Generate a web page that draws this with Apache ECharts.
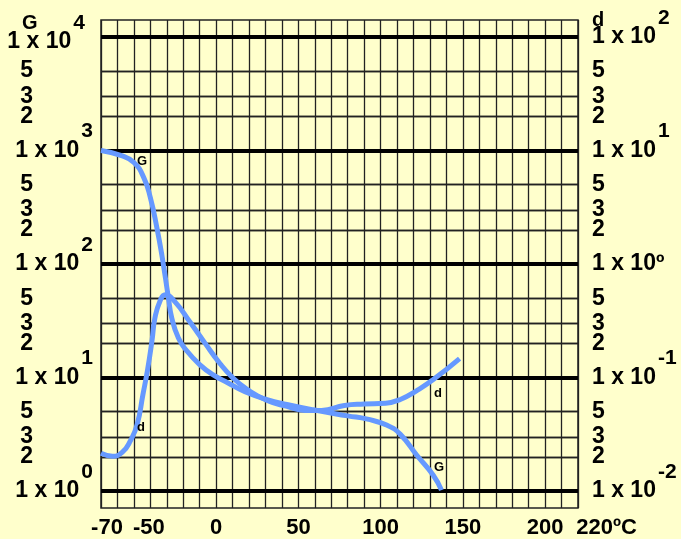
<!DOCTYPE html>
<html>
<head>
    <meta charset="utf-8" />
    <title></title>
    <script src="https://cdn.jsdelivr.net/npm/echarts@6/dist/echarts.min.js"></script>
    <style>
        html, body { margin: 0; padding: 0; background: #ffffcc; }
        #chartView { width: 681px; height: 539px; }
    </style>
</head>
<body>
    <div id="chartView"></div>

    <script>
        // G curve (left scale) - temperature in deg C
        var tempG = [-70, -58, -50, -44, -40, -36, -33, -29, -27, -23, -18, -10, -2, 7, 17.5, 31, 43, 59, 80, 92, 104, 112, 122, 132, 137];
        var valG = [1000, 904, 783, 577, 384, 208, 120, 50.4, 33.6, 22.4, 17.3, 13.0, 10.6, 9.0, 7.5, 6.4, 5.8, 5.2, 4.6, 4.3, 3.8, 3.16, 2.07, 1.38, 1.02];

        // d curve (right scale)
        var tempD = [-70, -63, -57, -52, -48, -44.5, -41.7, -39, -37.2, -34.1, -31, -25, -16, -7, 2.3, 10, 19, 31, 43, 54, 64, 78, 90, 103, 112, 122, 132, 148];
        var valD = [0.0215, 0.0203, 0.022, 0.028, 0.0387, 0.071, 0.117, 0.211, 0.336, 0.473, 0.535, 0.464, 0.310, 0.203, 0.133, 0.100, 0.0785, 0.0628, 0.0557, 0.0514, 0.0514, 0.0568, 0.0585, 0.0595, 0.0641, 0.0769, 0.096, 0.147];

        // axis labels
        var xLabels = [-70, -50, 0, 50, 100, 150, 200, 220];
        var leftExp = [0, 1, 2, 3, 4];
        var rightExp = [-2, -1, 0, 1, 2];
        var minorMult = [2, 3, 5];

        var FONT = "Arial, 'Liberation Sans', sans-serif";
        function txtStyle(size, pad) {
            return { fontSize: size, fontWeight: 'bold', fontFamily: FONT, color: '#000', padding: pad || 0 };
        }
        var richText = {
            m: txtStyle(23),
            s: txtStyle(21, [0, 0, 38, 2]),
            mt: txtStyle(23, [10, 0, 0, 0]),
            st: txtStyle(21, [0, 0, 28, 2])
        };

        function zip(xs, ys) {
            return xs.map(function (x, i) { return [x, ys[i]]; });
        }

        // grid lines + labels for one log scale
        function buildLines(exps, isRight) {
            var out = [];
            exps.forEach(function (e, k) {
                var base = Math.pow(10, e);
                var top = !isRight && k === exps.length - 1;
                var txt;
                if (isRight && e === 0) txt = '{m|1 x 10\u00ba}';
                else if (top) txt = '{mt|1 x 10}{st|' + e + '}';
                else txt = '{m|1 x 10}{s|' + e + '}';
                out.push({
                    yAxis: base,
                    lineStyle: { color: '#000', width: 4, type: 'solid' },
                    label: { formatter: txt, distance: isRight ? 14 : (top ? 16 : 8) }
                });
                if (k < exps.length - 1) {
                    minorMult.forEach(function (m) {
                        out.push({
                            yAxis: m * base,
                            lineStyle: { color: '#222', width: 1.3, type: 'solid' },
                            label: { formatter: '{m|' + m + '}', distance: isRight ? 14 : 68 }
                        });
                    });
                }
            });
            return out;
        }

        var myChart = echarts.init(document.getElementById('chartView'));

        var option = {
            backgroundColor: '#ffffcc',
            animation: false,
            grid: {
                left: 101, right: 103, top: 20, bottom: 28,
                show: true, borderColor: '#222', borderWidth: 1.5
            },
            xAxis: {
                type: 'value',
                min: -70,
                max: 220,
                interval: 10,
                axisLine: { show: false },
                axisTick: { show: false },
                splitLine: { show: true, lineStyle: { color: '#222', width: 1.3 } },
                axisLabel: {
                    interval: 0,
                    margin: 9,
                    rich: {
                        m: txtStyle(22),
                        a: txtStyle(22, [0, 0, 0, 12]),
                        b: txtStyle(22, [0, 0, 0, 30]),
                        c: txtStyle(22, [0, 0, 0, 57])
                    },
                    formatter: function (v) {
                        if (xLabels.indexOf(v) < 0) return '';
                        if (v === -70) return '{a|-70}';
                        if (v === -50) return '{b|-50}';
                        if (v === 220) return '{c|220\u00baC}';
                        return '{m|' + v + '}';
                    }
                }
            },
            yAxis: [
                { type: 'log', logBase: 10, min: 0.71, max: 14100, show: false },
                { type: 'log', logBase: 10, min: 0.0071, max: 141, show: false }
            ],
            graphic: [
                { type: 'text', left: 22, top: 13, style: { text: 'G', font: 'bold 20px ' + FONT, fill: '#000' } },
                { type: 'text', left: 592, top: 10, style: { text: 'd', font: 'bold 20px ' + FONT, fill: '#000' } },
                { type: 'text', left: 137, top: 155, z: 10, style: { text: 'G', font: 'bold 13px ' + FONT, fill: '#000' } },
                { type: 'text', left: 137, top: 421, z: 10, style: { text: 'd', font: 'bold 13px ' + FONT, fill: '#000' } },
                { type: 'text', left: 434, top: 387, z: 10, style: { text: 'd', font: 'bold 13px ' + FONT, fill: '#000' } },
                { type: 'text', left: 434, top: 461, z: 10, style: { text: 'G', font: 'bold 13px ' + FONT, fill: '#000' } }
            ],
            series: [
                {
                    type: 'line',
                    yAxisIndex: 0,
                    data: [],
                    silent: true,
                    z: 1,
                    markLine: {
                        silent: true,
                        symbol: ['none', 'none'],
                        label: { position: 'start', rich: richText },
                        data: buildLines(leftExp, false)
                    }
                },
                {
                    type: 'line',
                    yAxisIndex: 1,
                    data: [],
                    silent: true,
                    z: 1,
                    markLine: {
                        silent: true,
                        symbol: ['none', 'none'],
                        label: { position: 'end', rich: richText },
                        data: buildLines(rightExp, true)
                    }
                },
                {
                    name: 'G',
                    type: 'line',
                    yAxisIndex: 0,
                    data: zip(tempG, valG),
                    smooth: 0.5,
                    showSymbol: false,
                    z: 5,
                    lineStyle: { color: '#6699ff', width: 5 }
                },
                {
                    name: 'd',
                    type: 'line',
                    yAxisIndex: 1,
                    data: zip(tempD, valD),
                    smooth: 0.5,
                    showSymbol: false,
                    z: 5,
                    lineStyle: { color: '#6699ff', width: 5 }
                }
            ]
        };
        myChart.setOption(option);
    </script>
</body>
</html>
